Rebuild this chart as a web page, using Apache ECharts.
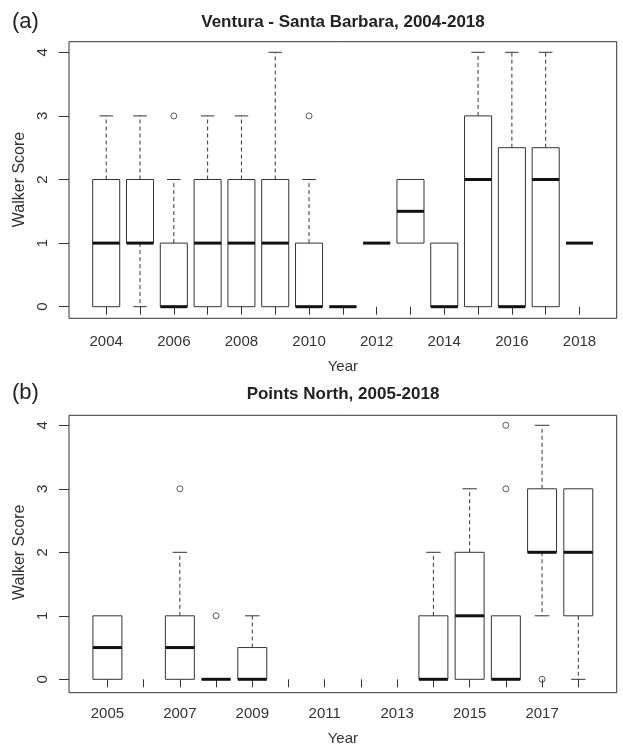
<!DOCTYPE html>
<html>
<head>
<meta charset="utf-8">
<script src="https://cdn.jsdelivr.net/npm/echarts@6/dist/echarts.min.js"></script>
<style>
html,body{margin:0;padding:0;background:#fff;}
#chart{width:623px;height:747px;}
</style>
</head>
<body>
<div id="chart"></div>
<script>
// ---------- Data ----------
const titleA = 'Ventura - Santa Barbara, 2004-2018';
const titleB = 'Points North, 2005-2018';
const yearsA = ['2004','2005','2006','2007','2008','2009','2010','2011','2012','2013','2014','2015','2016','2017','2018'];
// [lower whisker, Q1, median, Q3, upper whisker]; null = no data
const statsA = [
  [0, 0, 1, 2, 3],
  [0, 1, 1, 2, 3],
  [0, 0, 0, 1, 2],
  [0, 0, 1, 2, 3],
  [0, 0, 1, 2, 3],
  [0, 0, 1, 2, 4],
  [0, 0, 0, 1, 2],
  [0, 0, 0, 0, 0],
  [1, 1, 1, 1, 1],
  [1, 1, 1.5, 2, 2],
  [0, 0, 0, 1, 1],
  [0, 0, 2, 3, 4],
  [0, 0, 0, 2.5, 4],
  [0, 0, 2, 2.5, 4],
  [1, 1, 1, 1, 1]
];
const outliersA = [['2006', 3], ['2010', 3]];

const yearsB = ['2005','2006','2007','2008','2009','2010','2011','2012','2013','2014','2015','2016','2017','2018'];
const statsB = [
  [0, 0, 0.5, 1, 1],
  null,
  [0, 0, 0.5, 1, 2],
  [0, 0, 0, 0, 0],
  [0, 0, 0, 0.5, 1],
  null,
  null,
  null,
  null,
  [0, 0, 0, 1, 2],
  [0, 0, 1, 2, 3],
  [0, 0, 0, 1, 1],
  [1, 2, 2, 3, 4],
  [0, 1, 2, 3, 3]
];
const outliersB = [['2007', 3], ['2008', 1], ['2016', 3], ['2016', 4], ['2017', 0]];

const yTicks = [0, 1, 2, 3, 4];

// ---------- Build ----------
const FONT = '"Liberation Sans", Arial, Helvetica, sans-serif';
const INK = '#333';

function boxData(stats) {
  const out = [];
  stats.forEach((s, i) => { if (s) out.push([i].concat(s)); });
  return out;
}
function outData(years, outs) {
  return outs.map(o => [years.indexOf(o[0]), o[1]]);
}

function renderBox(params, api) {
  const x = api.value(0);
  const lo = api.coord([x, api.value(1)]);
  const q1 = api.coord([x, api.value(2)]);
  const md = api.coord([x, api.value(3)]);
  const q3 = api.coord([x, api.value(4)]);
  const hi = api.coord([x, api.value(5)]);
  const bw = api.size([1, 0])[0] * 0.8;
  const cx = md[0];
  const sw = bw / 2;
  const children = [];
  const dash = {stroke: INK, lineWidth: 1, lineDash: [4, 3], fill: null};
  const solid = {stroke: INK, lineWidth: 1, fill: null};
  if (api.value(5) > api.value(4)) {
    children.push({type: 'line', shape: {x1: cx, y1: q3[1], x2: cx, y2: hi[1]}, style: dash});
    children.push({type: 'line', shape: {x1: cx - sw / 2, y1: hi[1], x2: cx + sw / 2, y2: hi[1]}, style: solid});
  }
  if (api.value(1) < api.value(2)) {
    children.push({type: 'line', shape: {x1: cx, y1: q1[1], x2: cx, y2: lo[1]}, style: dash});
    children.push({type: 'line', shape: {x1: cx - sw / 2, y1: lo[1], x2: cx + sw / 2, y2: lo[1]}, style: solid});
  }
  children.push({type: 'rect', shape: {x: cx - bw / 2, y: q3[1], width: bw, height: q1[1] - q3[1]},
    style: {fill: '#fff', stroke: INK, lineWidth: 1}});
  children.push({type: 'line', shape: {x1: cx - bw / 2, y1: md[1], x2: cx + bw / 2, y2: md[1]},
    style: {stroke: '#111', lineWidth: 3}});
  return {type: 'group', children: children};
}

function xAxisFor(years, grid, offset) {
  return {
    type: 'category', data: years, gridIndex: grid, offset: offset,
    axisLine: {show: false},
    axisTick: {show: true, alignWithLabel: true, interval: 0, length: 8, lineStyle: {color: INK}},
    axisLabel: {interval: 1, margin: 16, fontSize: 15, color: INK, fontFamily: FONT},
    name: 'Year', nameLocation: 'middle', nameGap: 41,
    nameTextStyle: {fontSize: 15, color: INK, fontFamily: FONT}
  };
}
function yAxisFor(grid, offset) {
  return {
    type: 'value', gridIndex: grid, min: yTicks[0], max: yTicks[yTicks.length - 1], interval: 1,
    offset: offset,
    axisLine: {show: false},
    axisTick: {show: true, length: 10, lineStyle: {color: INK}},
    splitLine: {show: false},
    axisLabel: {rotate: 90, margin: 19, fontSize: 15, color: INK, fontFamily: FONT},
    name: 'Walker Score', nameLocation: 'middle', nameRotate: 90, nameGap: 33,
    nameTextStyle: {fontSize: 16, color: INK, fontFamily: FONT}
  };
}
function hiddenAxis(grid) {
  return {type: 'value', gridIndex: grid, show: false, min: 0, max: 1};
}

const chart = echarts.init(document.getElementById('chart'), null, {renderer: 'canvas'});
chart.setOption({
  backgroundColor: '#fff',
  animation: false,
  title: [
    {text: '(a)', left: 12, top: 11, padding: 0, textStyle: {fontSize: 22, fontWeight: 'normal', color: '#222', fontFamily: FONT}},
    {text: titleA, left: 343, textAlign: 'center', top: 14, padding: 0, textStyle: {fontSize: 17, fontWeight: 'bold', color: '#222', fontFamily: FONT}},
    {text: '(b)', left: 12, top: 382, padding: 0, textStyle: {fontSize: 22, fontWeight: 'normal', color: '#222', fontFamily: FONT}},
    {text: titleB, left: 343, textAlign: 'center', top: 386, padding: 0, textStyle: {fontSize: 17, fontWeight: 'bold', color: '#222', fontFamily: FONT}}
  ],
  grid: [
    {left: 89.3, top: 52.3, width: 507.1, height: 254.4},
    {left: 69, top: 41.7, width: 547.7, height: 276.6, show: true, borderColor: INK, borderWidth: 1, backgroundColor: 'transparent'},
    {left: 89.3, top: 425.3, width: 507.1, height: 256.7},
    {left: 69, top: 415.3, width: 547.7, height: 277.4, show: true, borderColor: INK, borderWidth: 1, backgroundColor: 'transparent'}
  ],
  xAxis: [xAxisFor(yearsA, 0, 11.6), hiddenAxis(1), xAxisFor(yearsB, 2, 10.7), hiddenAxis(3)],
  yAxis: [yAxisFor(0, 20.3), hiddenAxis(1), yAxisFor(2, 20.3), hiddenAxis(3)],
  series: [
    {type: 'custom', xAxisIndex: 0, yAxisIndex: 0, renderItem: renderBox, data: boxData(statsA), encode: {x: 0, y: [1, 2, 3, 4, 5]}, clip: false},
    {type: 'scatter', xAxisIndex: 0, yAxisIndex: 0, data: outData(yearsA, outliersA), symbol: 'circle', symbolSize: 6,
      itemStyle: {color: 'rgba(0,0,0,0)', borderColor: INK, borderWidth: 1}},
    {type: 'custom', xAxisIndex: 2, yAxisIndex: 2, renderItem: renderBox, data: boxData(statsB), encode: {x: 0, y: [1, 2, 3, 4, 5]}, clip: false},
    {type: 'scatter', xAxisIndex: 2, yAxisIndex: 2, data: outData(yearsB, outliersB), symbol: 'circle', symbolSize: 6,
      itemStyle: {color: 'rgba(0,0,0,0)', borderColor: INK, borderWidth: 1}}
  ]
});
</script>
</body>
</html>
